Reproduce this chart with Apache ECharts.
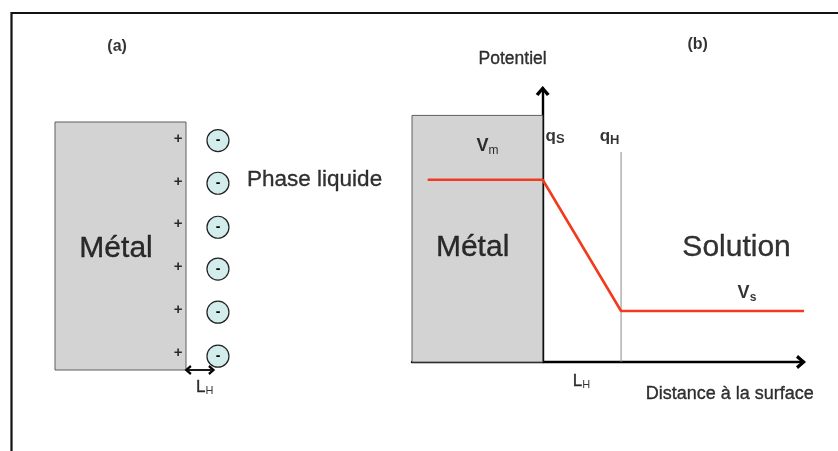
<!DOCTYPE html>
<html><head><meta charset="utf-8">
<script src="https://cdn.jsdelivr.net/npm/echarts@6/dist/echarts.min.js"></script>
<style>html,body{margin:0;padding:0;background:#fff}#c{width:838px;height:451px}</style>
</head><body><div id="c"></div>
<script>
// ---------- Panel (a): charged metal / liquid interface (diagram units, metal surface at x = 0) ----------
const metalA = [[-5, 0, 0, 5.75]];                        // [x0, y0, x1, y1]
const plusX = -0.3;
const plusLevels = [0.39, 1.39, 2.38, 3.38, 4.37, 5.37];  // positive surface charges
const ionX = 1.22;
const ionLevels = [0.32, 1.34, 2.34, 3.31, 4.33, 5.32];   // solvated anions
const lhArrowA = [0.08, 0.98];                            // Helmholtz layer thickness
// labels: [x, y, main, sub, kind, align]
const labelsA = [
  [-2.63, 7.5, '(a)', '', 'tag', 'center'],
  [-2.67, 2.82, 'Métal', '', 'big', 'center'],
  [2.33, 4.40, 'Phase liquide', '', 'mid', 'left'],
  [0.38, -0.39, 'L', 'H', 'L', 'left']
];

// ---------- Panel (b): potential profile ----------
const metalB = [[-5, 0, 0, 9.0]];
const distance = [-4.4, 0, 3, 10];          // distance to the surface
const potential = [6.65, 6.65, 1.86, 1.86]; // potential (V_m -> V_s)
const planeH = [[3, 0], [3, 7.66]];         // outer Helmholtz plane
const labelsB = [
  [5.93, 11.57, '(b)', '', 'tag', 'center'],
  [-1.15, 11.06, 'Potentiel', '', 'pot', 'center'],
  [-2.53, 7.88, 'V', 'm', 'V', 'left'],
  [0.11, 8.25, 'q', 'S', 'q', 'left'],
  [2.18, 8.22, 'q', 'H', 'q', 'left'],
  [-2.68, 4.16, 'Métal', '', 'big', 'center'],
  [7.42, 4.16, 'Solution', '', 'big', 'center'],
  [7.46, 2.5, 'V', 's', 'Vs', 'left'],
  [1.15, -0.69, 'L', 'H', 'L', 'left'],
  [7.16, -1.17, 'Distance à la surface', '', 'axis', 'center']
];

const FONT = "'Liberation Sans', Arial, Helvetica, sans-serif";
const chevron = 'path://M0,8 L7,0 L14,8 L11.2,10 L7,4.8 L2.8,10 Z';
const heavy = {textBorderColor: '#000', textBorderWidth: 0.35};

const rich = {
  big: Object.assign({fontSize: 30, color: '#000', fontFamily: FONT}, heavy),
  mid: Object.assign({fontSize: 22.5, color: '#000', fontFamily: FONT}, heavy),
  axis: Object.assign({fontSize: 18, color: '#000', fontFamily: FONT}, heavy),
  pot: Object.assign({fontSize: 17.5, color: '#000', fontFamily: FONT}, heavy),
  tag: {fontSize: 16, fontWeight: 'bold', color: '#000', fontFamily: FONT},
  L: Object.assign({fontSize: 17, color: '#000', fontFamily: FONT}, heavy),
  Lsub: {fontSize: 11, color: '#000', fontFamily: FONT, padding: [9, 0, 0, 0]},
  V: {fontSize: 18, fontWeight: 'bold', color: '#000', fontFamily: FONT},
  Vsub: {fontSize: 12, color: '#000', fontFamily: FONT, padding: [9, 0, 0, 0]},
  Vs: {fontSize: 18, fontWeight: 'bold', color: '#000', fontFamily: FONT},
  Vssub: {fontSize: 12, fontWeight: 'bold', color: '#000', fontFamily: FONT, padding: [9, 0, 0, 0]},
  q: {fontSize: 17, fontWeight: 'bold', color: '#000', fontFamily: FONT},
  qsub: {fontSize: 13, fontWeight: 'bold', color: '#000', fontFamily: FONT, padding: [7, 0, 0, 0]}
};

function labelData(list) {
  return list.map(function (l) {
    const txt = '{' + l[4] + '|' + l[2] + '}' + (l[3] ? '{' + l[4] + 'sub|' + l[3] + '}' : '');
    return {
      value: [l[0], l[1]],
      label: {show: true, position: 'inside', formatter: txt, color: '#000', align: l[5], verticalAlign: 'middle', rich: rich}
    };
  });
}

function rectItem(params, api) {
  const p0 = api.coord([api.value(0), api.value(1)]);
  const p1 = api.coord([api.value(2), api.value(3)]);
  return {
    type: 'rect',
    shape: {x: p0[0], y: p1[1], width: p1[0] - p0[0], height: p0[1] - p1[1]},
    style: {fill: '#d3d3d3', stroke: '#5e5e5e', lineWidth: 1}
  };
}

const hiddenAxis = {show: false};
const chart = echarts.init(document.getElementById('c'));
chart.setOption({
  animation: false,
  textStyle: {fontFamily: FONT, color: '#000'},
  graphic: [{
    type: 'rect', z: 100,
    shape: {x: 11.5, y: 13, width: 900, height: 500},
    style: {fill: 'none', stroke: '#111', lineWidth: 2.2}
  }],
  grid: [
    {left: 55, top: 122, width: 262, height: 248},
    {left: 412, top: 88, width: 392, height: 274}
  ],
  xAxis: [
    Object.assign({gridIndex: 0, type: 'value', min: -5, max: 5}, hiddenAxis),
    {
      gridIndex: 1, type: 'value', min: -5, max: 10,
      axisLine: {show: true, onZero: false, symbol: ['none', chevron], symbolSize: [14, 10], symbolOffset: [0, -3],
        lineStyle: {color: '#000', width: 2.4}},
      axisTick: {show: false}, axisLabel: {show: false}, splitLine: {show: false}
    }
  ],
  yAxis: [
    Object.assign({gridIndex: 0, type: 'value', min: 0, max: 5.75}, hiddenAxis),
    {
      gridIndex: 1, type: 'value', min: 0, max: 10,
      axisLine: {show: true, onZero: true, symbol: ['none', chevron], symbolSize: [14, 10], symbolOffset: [0, -3],
        lineStyle: {color: '#000', width: 2.4}},
      axisTick: {show: false}, axisLabel: {show: false}, splitLine: {show: false}
    }
  ],
  series: [
    // ---- panel (a)
    {type: 'custom', xAxisIndex: 0, yAxisIndex: 0, clip: false, renderItem: rectItem, data: metalA, z: 1},
    {
      type: 'scatter', xAxisIndex: 0, yAxisIndex: 0, clip: false, symbolSize: 0, z: 3,
      data: plusLevels.map(function (y) { return [plusX, y]; }),
      label: {show: true, position: 'inside', formatter: '+', fontSize: 15, fontWeight: 'bold', color: '#000', fontFamily: FONT}
    },
    {
      type: 'scatter', xAxisIndex: 0, yAxisIndex: 0, clip: false, symbol: 'circle', symbolSize: 22, z: 3,
      itemStyle: {color: '#d3ecec', borderColor: '#222', borderWidth: 1.2, opacity: 1},
      data: ionLevels.map(function (y) { return [ionX, y]; }),
      label: {show: true, position: 'inside', formatter: '-', fontSize: 14, fontWeight: 'bold', color: '#000', fontFamily: FONT},
      markLine: {
        silent: true, symbol: [chevron, chevron], symbolSize: [10, 7], precision: 4,
        lineStyle: {color: '#000', width: 1.8, type: 'solid'}, label: {show: false},
        data: [[{coord: [lhArrowA[0], 0]}, {coord: [lhArrowA[1], 0]}]]
      }
    },
    {type: 'scatter', xAxisIndex: 0, yAxisIndex: 0, clip: false, symbolSize: 0, z: 4, data: labelData(labelsA)},
    // ---- panel (b)
    {type: 'custom', xAxisIndex: 1, yAxisIndex: 1, clip: false, renderItem: rectItem, data: metalB, z: 1},
    {
      type: 'line', xAxisIndex: 1, yAxisIndex: 1, clip: false, symbol: 'none', z: 2,
      lineStyle: {color: '#888', width: 1}, data: planeH
    },
    {
      type: 'line', xAxisIndex: 1, yAxisIndex: 1, clip: false, symbol: 'none', z: 3,
      lineStyle: {color: '#f23a1f', width: 2.6},
      data: distance.map(function (d, i) { return [d, potential[i]]; })
    },
    {type: 'scatter', xAxisIndex: 1, yAxisIndex: 1, clip: false, symbolSize: 0, z: 4, data: labelData(labelsB)}
  ]
});
</script>
</body></html>
